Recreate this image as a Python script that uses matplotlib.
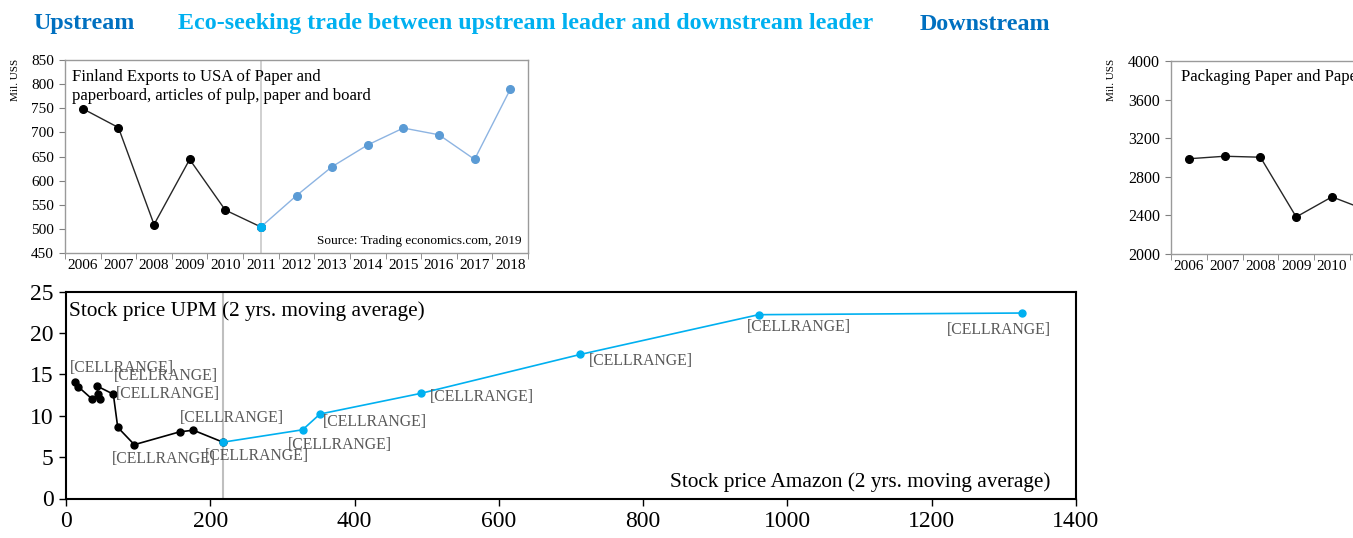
import matplotlib.pyplot as plt

plt.rcParams['font.family'] = ['Liberation Serif', 'DejaVu Serif']

# Finland exports to USA (Mil. USS)
years = ['2006', '2007', '2008', '2009', '2010', '2011', '2012',
         '2013', '2014', '2015', '2016', '2017', '2018']
exports = [749, 710, 509, 644, 539, 504, 569, 629, 674, 709, 695, 644, 789]

# packaging paper (only the visible part)
pack_years = ['2006', '2007', '2008', '2009', '2010', '2011']
packaging = [2987, 3013, 3003, 2384, 2592, 2450]

# stock prices, 2 yrs moving average
amazon_black = [12.5, 17, 35.6, 47.1, 44.8, 42.5, 65.6, 71.7, 94.7, 157.6, 176.5, 217.6]
upm_black = [14.1, 13.5, 12.05, 12.05, 12.6, 13.6, 12.6, 8.6, 6.5, 8.05, 8.25, 6.8]
amazon_blue = [217.6, 328, 352, 492, 713, 960, 1325]
upm_blue = [6.8, 8.3, 10.2, 12.7, 17.4, 22.2, 22.4]

fig = plt.figure(figsize=(13.53, 5.38), dpi=100)

# header
fig.text(33 / 1353, 1 - 24 / 538, 'Upstream', color='#0070c0', fontsize=17.25,
         fontweight='bold', va='center')
fig.text(178 / 1353, 1 - 24 / 538, 'Eco-seeking trade between upstream leader and downstream leader',
         color='#00b0f0', fontsize=17.25, fontweight='bold', va='center')
fig.text(920 / 1353, 1 - 24 / 538, 'Downstream', color='#0070c0', fontsize=17.25,
         fontweight='bold', va='center')

# ---- top left chart
ax1 = fig.add_axes([65 / 1353, 1 - 253 / 538, 463 / 1353, 193 / 538])
xs = list(range(len(years)))
ax1.plot(xs[:6], exports[:6], color='#262626', lw=1, marker='o', ms=5.5,
         mfc='black', mec='black', zorder=3)
ax1.plot(xs[5:], exports[5:], color='#8db4e2', lw=1, marker='o', ms=5.5,
         mfc='#5b9bd5', mec='#5b9bd5', zorder=3)
ax1.plot(xs[5], exports[5], marker='o', ms=5.5, color='#00b0f0', zorder=4)
ax1.axvline(5, color='#c8c8c8', lw=1.2, zorder=1)
ax1.set_xlim(-0.5, 12.5)
ax1.set_ylim(450, 850)
ax1.set_yticks(range(450, 851, 50))
ax1.set_xticks(xs)
ax1.set_xticklabels(years)
ax1.set_xticks([i - 0.5 for i in range(14)], minor=True)
ax1.tick_params(axis='x', which='major', length=0, labelsize=11, pad=4)
ax1.tick_params(axis='x', which='minor', length=4, color='#808080')
ax1.tick_params(axis='y', length=4, color='#808080', labelsize=11, pad=4)
for s in ax1.spines.values():
    s.set_color('#9a9a9a')
    s.set_linewidth(1)
ax1.text(0.015, 0.955, 'Finland Exports to USA of Paper and\npaperboard, articles of pulp, paper and board',
         transform=ax1.transAxes, fontsize=12, va='top', linespacing=1.25)
ax1.text(0.985, 0.03, 'Source: Trading economics.com, 2019', transform=ax1.transAxes,
         fontsize=9.5, ha='right', va='bottom')
fig.text(16 / 1353, 1 - 80 / 538, 'Mil. USS', rotation=90, fontsize=8,
         ha='center', va='center')

# ---- top right chart (cut by the page edge)
ax2 = fig.add_axes([1171 / 1353, 1 - 254 / 538, 465 / 1353, 193 / 538])
px = list(range(len(pack_years)))
ax2.plot(px, packaging, color='#262626', lw=1, marker='o', ms=5.5,
         mfc='black', mec='black', zorder=3)
ax2.set_xlim(-0.5, 12.5)
ax2.set_ylim(2000, 4000)
ax2.set_yticks(range(2000, 4001, 400))
ax2.set_xticks(xs)
ax2.set_xticklabels(years)
ax2.set_xticks([i - 0.5 for i in range(14)], minor=True)
ax2.tick_params(axis='x', which='major', length=0, labelsize=11, pad=4)
ax2.tick_params(axis='x', which='minor', length=4, color='#808080')
ax2.tick_params(axis='y', length=4, color='#808080', labelsize=11.5, pad=4)
for s in ax2.spines.values():
    s.set_color('#9a9a9a')
    s.set_linewidth(1)
ax2.text(0.022, 0.96, 'Packaging Paper and Paperboard', transform=ax2.transAxes,
         fontsize=12, va='top')
fig.text(1111 / 1353, 1 - 80 / 538, 'Mil. USS', rotation=90, fontsize=8,
         ha='center', va='center')

# ---- bottom chart
ax3 = fig.add_axes([66 / 1353, 1 - 498.5 / 538, 1010 / 1353, 207 / 538])
ax3.plot(amazon_black, upm_black, color='black', lw=1.2, marker='o', ms=5, zorder=3)
ax3.plot(amazon_blue, upm_blue, color='#00b0f0', lw=1.2, marker='o', ms=5, zorder=3)
ax3.axvline(217.6, color='#bfbfbf', lw=1.5, zorder=1)
ax3.set_xlim(0, 1400)
ax3.set_ylim(0, 25)
ax3.set_xticks(range(0, 1401, 200))
ax3.set_yticks(range(0, 26, 5))
ax3.tick_params(length=5, width=1, labelsize=17, pad=4)
for s in ax3.spines.values():
    s.set_linewidth(1.5)

# data labels: (x, y, offset in pixels)
label_pts = [
    (amazon_black[0], upm_black[0], (-5, 14)),
    (amazon_black[5], upm_black[5], (17, 10)),
    (amazon_black[6], upm_black[6], (3, 0)),
    (amazon_black[8], upm_black[8], (-22, -14)),
    (amazon_black[10], upm_black[10], (-13, 12)),
    (amazon_blue[0], upm_blue[0], (-18, -14)),
    (amazon_blue[1], upm_blue[1], (-15, -15)),
    (amazon_blue[2], upm_blue[2], (3, -8)),
    (amazon_blue[3], upm_blue[3], (9, -4)),
    (amazon_blue[4], upm_blue[4], (8, -7)),
    (amazon_blue[5], upm_blue[5], (-12, -12)),
    (amazon_blue[6], upm_blue[6], (-75, -17)),
]
for x, y, off in label_pts:
    ax3.annotate('[CELLRANGE]', (x, y), xytext=off, textcoords='offset pixels',
                 fontsize=11.3, color='#595959', ha='left', va='center', zorder=5)

ax3.text(0.003, 0.955, 'Stock price UPM (2 yrs. moving average)', transform=ax3.transAxes,
         fontsize=15.3, va='top')
ax3.text(0.975, 0.03, 'Stock price Amazon (2 yrs. moving average)', transform=ax3.transAxes,
         fontsize=15.3, ha='right', va='bottom')

plt.savefig('out.png', dpi=100)
